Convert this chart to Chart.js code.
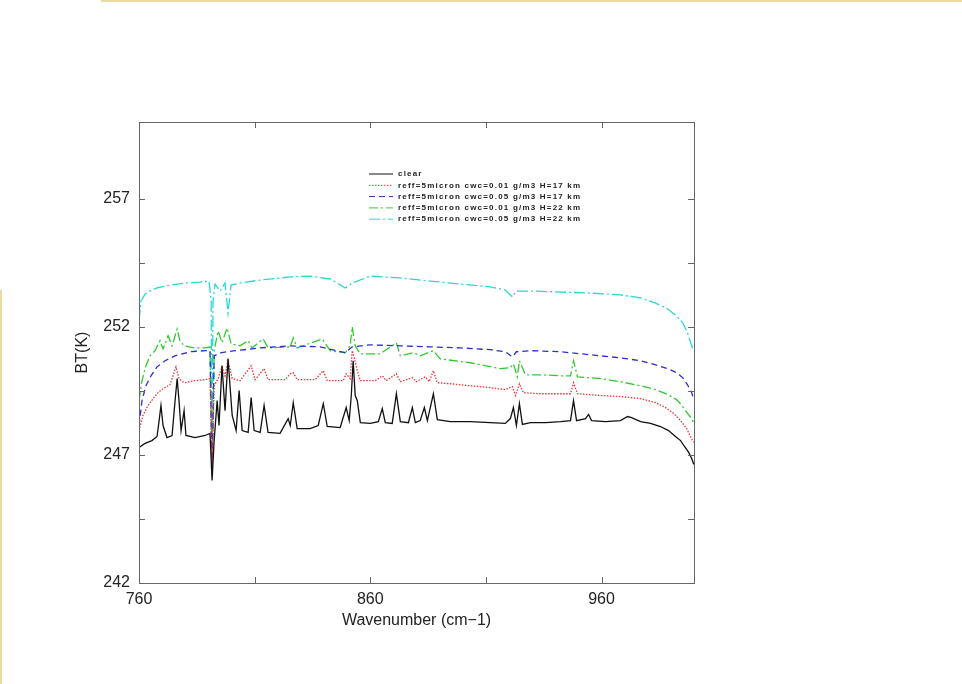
<html>
	<head>
		<script src="https://cdn.jsdelivr.net/npm/chart.js"></script>
		<style>
			body {
				margin: 0;
				background: #fff;
			}
			#wrap {
				position: relative;
				width: 962px;
				height: 684px;
				overflow: hidden;
			}
			.frame-top {
				position: absolute;
				left: 101px;
				top: 0;
				width: 861px;
				height: 2px;
				background: #ecd9a4;
			}
			.frame-left {
				position: absolute;
				left: 0;
				top: 290px;
				width: 2px;
				height: 394px;
				background: #ecd9a4;
			}
		</style>
	</head>
	<body>
		<div id="wrap">
			<div class="frame-top"></div>
			<div class="frame-left"></div>
			<canvas id="btChart" width="962" height="684"></canvas>
		</div>

		<script>
			// axis setup
			const xMin = 760, xMax = 1000;
			const yMin = 242, yMax = 260;
			const xTicks = [760, 860, 960];
			const xMinorTicks = [810, 910];
			const yTicks = [242, 247, 252, 257];
			const yMinorTicks = [244.5, 249.5, 254.5];

			const seriesLabels = [
				'clear',
				'reff=5micron cwc=0.01 g/m3 H=17 km',
				'reff=5micron cwc=0.05 g/m3 H=17 km',
				'reff=5micron cwc=0.01 g/m3 H=22 km',
				'reff=5micron cwc=0.05 g/m3 H=22 km'
			];

			// clear sky
			const clearWn = [760, 762.6, 765.6, 767.8, 768.7, 769.5, 770.4, 772.1, 774.3, 775.6, 776.5, 777.3, 778.2, 779.5, 780.3, 784.2, 788.6, 790.7, 791.6, 792.5, 793.8, 794.6, 795.9, 797.2, 798.5, 800.3, 802.0, 803.3, 804.6, 807.2, 808.5, 809.8, 812.4, 814.1, 815.8, 821.0, 824.5, 825.4, 826.7, 828.4, 834.0, 837.5, 839.7, 841.4, 847.0, 849.6, 850.9, 851.8, 852.6, 853.5, 854.4, 855.7, 860.0, 863.5, 865.2, 866.5, 869.5, 871.3, 873.0, 876.5, 878.2, 879.5, 881.6, 883.4, 884.7, 887.3, 889.0, 894.6, 903.3, 911.9, 918.4, 920.6, 921.9, 923.2, 924.5, 925.8, 929.3, 935.8, 942.3, 946.6, 947.9, 949.2, 953.1, 954.4, 955.7, 961.7, 968.2, 971.3, 973.0, 976.9, 981.2, 985.5, 989.0, 992.0, 994.2, 995.9, 997.7, 999.0, 999.9];
			const clearBt = [247.29, 247.45, 247.56, 247.72, 248.34, 248.93, 248.15, 247.68, 247.76, 249.12, 249.98, 249.12, 247.95, 248.73, 247.76, 247.68, 247.76, 247.84, 246.0, 247.56, 249.12, 248.15, 250.48, 248.73, 250.75, 248.54, 247.95, 249.51, 247.95, 247.88, 249.24, 247.95, 247.88, 248.93, 247.88, 247.84, 248.42, 248.15, 249.04, 248.03, 248.03, 248.15, 249.0, 248.11, 248.07, 248.85, 248.34, 249.32, 250.68, 249.32, 249.12, 248.26, 248.23, 248.30, 248.81, 248.26, 248.23, 249.39, 248.30, 248.26, 248.85, 248.26, 248.34, 248.85, 248.34, 249.39, 248.38, 248.30, 248.30, 248.26, 248.23, 248.42, 248.85, 248.15, 249.0, 248.19, 248.26, 248.26, 248.30, 248.34, 249.12, 248.34, 248.42, 248.58, 248.34, 248.30, 248.34, 248.50, 248.46, 248.30, 248.23, 248.11, 247.95, 247.72, 247.56, 247.33, 247.10, 246.86, 246.63];

			// cwc 0.01, H=17
			const c01h17Wn = [760, 761.7, 763.9, 766.1, 768.2, 770.4, 773.4, 776.0, 777.3, 779.5, 784.2, 788.6, 790.7, 791.6, 792.5, 794.2, 795.9, 797.2, 798.5, 800.3, 803.7, 808.5, 810.2, 814.1, 815.8, 823.2, 825.4, 826.7, 828.4, 836.2, 839.7, 841.4, 848.3, 849.6, 851.3, 852.2, 853.1, 854.4, 855.7, 862.2, 865.2, 866.9, 871.3, 873.0, 878.2, 879.9, 883.8, 885.5, 887.3, 889.0, 894.6, 903.3, 911.9, 918.4, 921.5, 922.8, 924.5, 926.2, 933.6, 942.3, 946.6, 947.9, 949.6, 959.6, 968.2, 976.9, 983.4, 987.7, 991.2, 994.2, 996.8, 998.5, 999.8];
			const c01h17Bt = [247.95, 248.54, 248.93, 249.20, 249.43, 249.59, 249.74, 250.44, 249.98, 249.82, 249.90, 249.94, 249.98, 246.40, 249.70, 249.98, 250.44, 250.09, 250.68, 249.98, 249.90, 250.48, 249.94, 250.37, 249.94, 249.94, 250.17, 250.21, 249.94, 249.94, 250.29, 249.90, 249.90, 250.17, 249.98, 251.07, 250.79, 250.29, 249.90, 249.90, 250.09, 249.90, 250.17, 249.86, 250.02, 249.86, 250.05, 249.86, 250.29, 249.82, 249.78, 249.70, 249.63, 249.55, 249.67, 249.32, 249.78, 249.43, 249.39, 249.39, 249.39, 249.82, 249.39, 249.32, 249.28, 249.20, 249.04, 248.85, 248.62, 248.34, 248.03, 247.72, 247.49];

			// cwc 0.05, H=17
			const c05h17Wn = [760, 761.3, 763.0, 765.2, 767.8, 771.3, 775.6, 782.1, 788.6, 790.7, 791.6, 792.5, 795.1, 801.6, 812.4, 825.4, 838.4, 849.2, 852.2, 860.0, 873.0, 886.0, 899.0, 911.9, 918.4, 921.5, 923.2, 929.3, 942.3, 950.9, 959.6, 968.2, 976.9, 983.4, 988.6, 992.5, 995.1, 997.2, 999.0, 999.8];
			const c05h17Bt = [248.15, 249.12, 249.70, 250.09, 250.44, 250.68, 250.87, 251.03, 251.07, 251.07, 246.40, 250.87, 250.99, 251.07, 251.18, 251.26, 251.22, 250.99, 251.22, 251.30, 251.26, 251.22, 251.18, 251.11, 251.03, 250.83, 251.03, 251.07, 251.03, 250.95, 250.87, 250.79, 250.68, 250.52, 250.37, 250.21, 250.02, 249.74, 249.43, 249.20];

			// cwc 0.01, H=22
			const c01h22Wn = [760, 761.3, 763.0, 764.8, 766.9, 769.1, 770.4, 772.6, 774.3, 776.5, 777.7, 779.5, 784.2, 788.6, 790.7, 791.6, 792.5, 794.2, 795.9, 798.1, 799.8, 803.7, 807.2, 808.9, 813.7, 815.8, 825.4, 826.7, 828.4, 839.2, 842.7, 849.2, 851.3, 852.2, 853.5, 855.7, 864.3, 871.3, 873.0, 878.6, 881.6, 887.3, 890.3, 903.3, 916.3, 920.6, 921.9, 923.6, 924.5, 927.1, 933.6, 942.3, 946.6, 947.9, 949.6, 959.6, 968.2, 976.9, 983.4, 988.6, 992.5, 995.1, 997.2, 999.0, 999.8];
			const c01h22Bt = [249.12, 249.90, 250.48, 250.87, 251.07, 251.46, 251.14, 251.65, 251.26, 251.92, 251.46, 251.26, 251.18, 251.18, 251.22, 246.40, 251.07, 251.84, 251.38, 251.96, 251.34, 251.26, 251.46, 251.18, 251.53, 251.18, 251.22, 251.57, 251.18, 251.53, 251.07, 250.99, 251.26, 252.00, 251.26, 250.95, 250.95, 251.38, 250.87, 250.99, 250.87, 251.07, 250.75, 250.60, 250.37, 250.41, 250.56, 250.05, 250.68, 250.13, 250.13, 250.09, 250.09, 250.68, 250.05, 249.98, 249.86, 249.70, 249.55, 249.36, 249.16, 248.89, 248.62, 248.42, 248.26];

			// cwc 0.05, H=22
			const c05h22Wn = [760, 760.9, 762.6, 764.8, 767.8, 773.4, 779.9, 786.4, 790.3, 791.2, 791.6, 792.0, 792.9, 795.1, 797.2, 798.5, 799.8, 803.7, 812.4, 825.4, 834.0, 842.7, 849.2, 852.2, 860.0, 873.0, 886.0, 899.0, 911.9, 918.4, 921.5, 923.2, 929.3, 942.3, 955.2, 968.2, 976.9, 983.4, 988.6, 992.5, 995.1, 997.2, 999.0, 999.8];
			const c05h22Bt = [252.23, 253.01, 253.28, 253.40, 253.52, 253.63, 253.71, 253.75, 253.79, 253.01, 246.20, 253.01, 253.67, 253.40, 253.71, 252.54, 253.63, 253.71, 253.83, 253.95, 253.98, 253.87, 253.52, 253.71, 253.98, 253.91, 253.79, 253.67, 253.56, 253.44, 253.17, 253.40, 253.40, 253.36, 253.32, 253.25, 253.13, 252.93, 252.70, 252.43, 252.16, 251.77, 251.26, 251.07];

			const seriesWn = [clearWn, c01h17Wn, c05h17Wn, c01h22Wn, c05h22Wn];
			const seriesBt = [clearBt, c01h17Bt, c05h17Bt, c01h22Bt, c05h22Bt];
			const seriesColors = ['#111111', '#e8343a', '#2c2cd6', '#2ecb2e', '#2ad6d6'];
			const seriesDash = [[], [1.5, 1.5], [6, 4], [9, 3, 2, 3], [11, 3, 2, 3]];

			const fontFamily = '"Liberation Sans", Arial, Helvetica, sans-serif';

			const datasets = seriesLabels.map((label, i) => ({
				label: label,
				data: seriesWn[i].map((x, j) => ({ x: x, y: seriesBt[i][j] })),
				borderColor: seriesColors[i],
				borderDash: seriesDash[i],
				borderWidth: 1.3,
				pointRadius: 0,
				tension: 0,
				fill: false
			}));

			// box, inward ticks and the little legend
			const framePlugin = {
				id: 'frame',
				afterDraw(chart) {
					const { ctx, chartArea: a, scales } = chart;
					const xs = scales.x, ys = scales.y;
					ctx.save();
					ctx.strokeStyle = '#666';
					ctx.lineWidth = 1;
					ctx.setLineDash([]);
					ctx.strokeRect(a.left + 0.5, a.top + 0.5, a.right - a.left, a.bottom - a.top);

					ctx.beginPath();
					yTicks.concat(yMinorTicks).forEach(v => {
						const py = Math.round(ys.getPixelForValue(v)) + 0.5;
						ctx.moveTo(a.left, py); ctx.lineTo(a.left + 6, py);
						ctx.moveTo(a.right, py); ctx.lineTo(a.right - 6, py);
					});
					xTicks.concat(xMinorTicks).forEach(v => {
						const px = Math.round(xs.getPixelForValue(v)) + 0.5;
						ctx.moveTo(px, a.bottom); ctx.lineTo(px, a.bottom - 6);
						ctx.moveTo(px, a.top); ctx.lineTo(px, a.top + 6);
					});
					ctx.stroke();

					// legend
					const lx = a.left + 230, ly = a.top + 52;
					chart.data.datasets.forEach((ds, i) => {
						const y = ly + i * 11.3;
						ctx.strokeStyle = ds.borderColor;
						ctx.lineWidth = 1;
						ctx.setLineDash(ds.borderDash);
						ctx.beginPath();
						ctx.moveTo(lx, y); ctx.lineTo(lx + 24, y);
						ctx.stroke();
						ctx.setLineDash([]);
						ctx.fillStyle = '#222';
						ctx.font = 'bold 8px ' + fontFamily;
						ctx.letterSpacing = '1.2px';
						ctx.textBaseline = 'middle';
						ctx.fillText(ds.label, lx + 29, y);
					});
					ctx.restore();
				}
			};

			const ctx = document.getElementById('btChart').getContext('2d');
			const chart = new Chart(ctx, {
				type: 'line',
				data: { datasets: datasets },
				plugins: [framePlugin],
				options: {
					responsive: false,
					animation: false,
					layout: {
						padding: { left: 0, top: 122, right: 268, bottom: 0 }
					},
					plugins: {
						legend: { display: false },
						tooltip: { enabled: false }
					},
					scales: {
						x: {
							type: 'linear',
							min: xMin,
							max: xMax,
							afterBuildTicks: s => { s.ticks = xTicks.map(v => ({ value: v })); },
							afterFit: s => { s.height = 101; },
							grid: { display: false, drawTicks: false },
							border: { display: false },
							ticks: {
								color: '#222',
								padding: 7,
								maxRotation: 0,
								autoSkip: false,
								font: { family: fontFamily, size: 16 }
							},
							title: {
								display: true,
								text: 'Wavenumber (cm\u22121)',
								color: '#222',
								font: { family: fontFamily, size: 16 },
								padding: { top: 0, bottom: 54 }
							}
						},
						y: {
							min: yMin,
							max: yMax,
							afterBuildTicks: s => { s.ticks = yTicks.map(v => ({ value: v })); },
							afterFit: s => { s.width = 139; },
							grid: { display: false, drawTicks: false },
							border: { display: false },
							ticks: {
								color: '#222',
								padding: 9,
								autoSkip: false,
								font: { family: fontFamily, size: 16 }
							},
							title: {
								display: true,
								text: 'BT(K)',
								color: '#222',
								font: { family: fontFamily, size: 16 },
								padding: { top: 73, bottom: 0 }
							}
						}
					}
				}
			});
		</script>
	</body>
</html>
